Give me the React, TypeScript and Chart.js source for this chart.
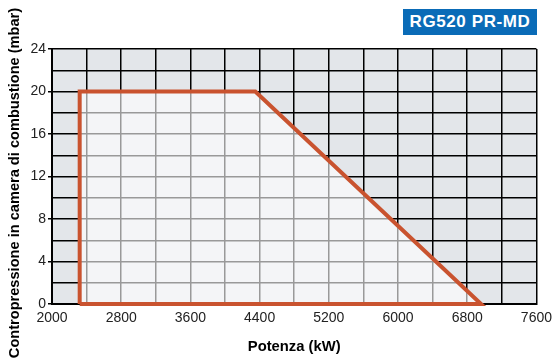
import React, { useEffect, useRef } from "react";
import { Chart, registerables } from "chart.js";

Chart.register(...registerables);

const chartTitle = "RG520 PR-MD";
const xAxisTitle = "Potenza (kW)";
const yAxisTitle = "Contropressione in camera di combustione (mbar)";

const xMin = 2000;
const xMax = 7600;
const yMin = 0;
const yMax = 24;

// working field polygon (power kW, back-pressure mbar)
const fieldPower = [2320, 2320, 4350, 6960, 2320];
const fieldPressure = [0, 20, 20, 0, 0];

const FONT = "'Liberation Sans', Arial, sans-serif";

const bgPlugin = {
  id: "areaBg",
  beforeDraw(chart: any) {
    const { ctx, chartArea } = chart;
    ctx.save();
    ctx.fillStyle = "#e3e6ea";
    ctx.fillRect(chartArea.left, chartArea.top, chartArea.right - chartArea.left, chartArea.bottom - chartArea.top);
    ctx.restore();
  },
  beforeDatasetsDraw(chart: any) {
    const { ctx } = chart;
    const xs = chart.scales.x;
    const ys = chart.scales.y;
    ctx.save();
    ctx.beginPath();
    fieldPower.forEach((p, i) => {
      const px = xs.getPixelForValue(p);
      const py = ys.getPixelForValue(fieldPressure[i]);
      if (i === 0) ctx.moveTo(px, py);
      else ctx.lineTo(px, py);
    });
    ctx.closePath();
    ctx.fillStyle = "rgba(255,255,255,0.6)";
    ctx.fill();
    ctx.restore();
  },
  afterDraw(chart: any) {
    const { ctx } = chart;
    ctx.save();
    ctx.translate(15, 183);
    ctx.rotate(-Math.PI / 2);
    ctx.fillStyle = "#000";
    ctx.font = `bold 14.6px ${FONT}`;
    ctx.textAlign = "center";
    ctx.textBaseline = "middle";
    ctx.fillText(yAxisTitle, 0, 0);
    ctx.restore();
  },
};

export default function App() {
  const ref = useRef<HTMLCanvasElement | null>(null);

  useEffect(() => {
    if (!ref.current) return;
    const data = fieldPower.map((x, i) => ({ x, y: fieldPressure[i] }));
    const chart = new Chart(ref.current, {
      type: "scatter",
      data: {
        datasets: [
          {
            data,
            showLine: true,
            borderColor: "#c9532f",
            borderWidth: 4,
            fill: false,
            pointRadius: 0,
            tension: 0,
            clip: false,
            borderJoinStyle: "miter",
          } as any,
        ],
      },
      options: {
        animation: false,
        responsive: false,
        maintainAspectRatio: false,
        layout: { padding: { left: 6, right: 21, top: 49, bottom: 4 } },
        plugins: { legend: { display: false }, tooltip: { enabled: false } },
        scales: {
          x: {
            type: "linear",
            min: xMin,
            max: xMax,
            afterFit(scale: any) {
              scale.height = 52;
            },
            ticks: {
              stepSize: 400,
              autoSkip: false,
              maxRotation: 0,
              padding: 6,
              color: "#222",
              font: { family: FONT, size: 14 },
              callback: (v: any) => ((Number(v) - xMin) % 800 === 0 ? String(v) : ""),
            },
            grid: { color: "#000", lineWidth: 1.5, drawTicks: false },
            border: { color: "#000", width: 2 },
            title: {
              display: true,
              text: xAxisTitle,
              color: "#000",
              font: { family: FONT, size: 14.8, weight: "bold" },
              padding: 0,
            },
          },
          y: {
            type: "linear",
            min: yMin,
            max: yMax,
            afterFit(scale: any) {
              scale.width = 46;
            },
            ticks: {
              stepSize: 2,
              autoSkip: false,
              padding: 2,
              color: "#222",
              font: { family: FONT, size: 14 },
              callback: (v: any) => (Number(v) % 4 === 0 ? String(v) : ""),
            },
            grid: {
              color: "#000",
              lineWidth: 1.5,
              tickLength: 4,
              tickColor: (ctx: any) => (ctx.tick && ctx.tick.value % 4 === 0 ? "#000" : "rgba(0,0,0,0)"),
            } as any,
            border: { color: "#000", width: 2 },
            title: { display: false },
          },
        },
      },
      plugins: [bgPlugin],
    });
    return () => chart.destroy();
  }, []);

  return (
    <div style={{ position: "fixed", left: 0, top: 0, width: 558, height: 360, background: "#fff" }}>
      <canvas ref={ref} width={558} height={360} style={{ display: "block" }} />
      <div
        style={{
          position: "absolute",
          left: 403,
          top: 9,
          width: 134,
          height: 26,
          background: "#0a6bb7",
          color: "#fff",
          fontFamily: FONT,
          fontWeight: "bold",
          fontSize: 17,
          lineHeight: "26px",
          textAlign: "center",
          letterSpacing: 0.6,
        }}
      >
        {chartTitle}
      </div>
    </div>
  );
}
